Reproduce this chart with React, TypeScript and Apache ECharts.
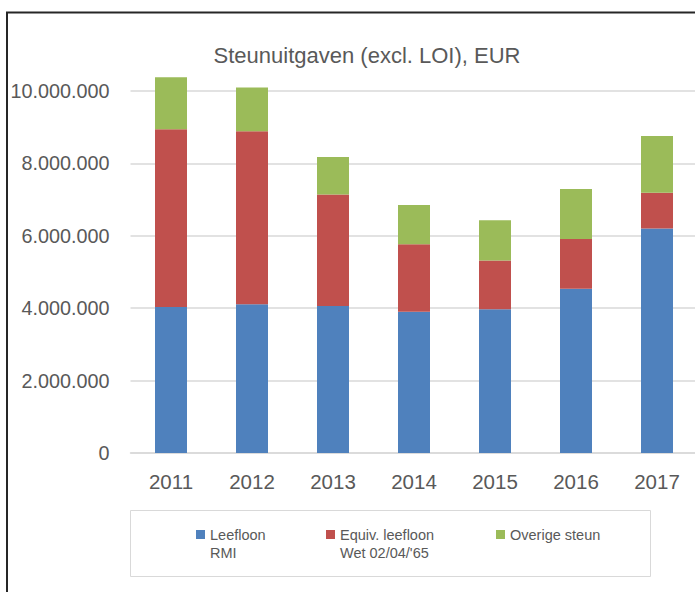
import React, { useEffect, useRef } from "react";
import * as echarts from "echarts";

const years = ["2011", "2012", "2013", "2014", "2015", "2016", "2017"];
const leefloon = [4030000, 4110000, 4060000, 3900000, 3970000, 4540000, 6200000];
const equivLeefloon = [4910000, 4780000, 3080000, 1870000, 1350000, 1370000, 990000];
const overigeSteun = [1440000, 1210000, 1040000, 1080000, 1110000, 1380000, 1570000];
const seriesNames = ["Leefloon\nRMI", "Equiv. leefloon\nWet 02/04/'65", "Overige steun"];
const seriesColors = ["#4f81bd", "#c0504d", "#9bbb59"];
const titleText = "Steunuitgaven (excl. LOI), EUR";

const FONT = "'Liberation Sans', Arial, sans-serif";
const TEXT = "#595959";

function fmt(v: number): string {
  return String(Math.round(v)).replace(/\B(?=(\d{3})+(?!\d))/g, ".");
}

// square icon at the top of a two-line-tall icon box, so it lines up with the first text line
const TWO_LINE_ICON = "path://M0,0L0.01,0M0,4.5L9,4.5L9,13.5L0,13.5ZM0,36L0.01,36";

export default function App() {
  const ref = useRef<HTMLDivElement>(null);
  useEffect(() => {
    if (!ref.current) return;
    const chart = echarts.init(ref.current, null, { renderer: "svg" });
    const values = [leefloon, equivLeefloon, overigeSteun];
    const legendLeft = [196, 326, 496];
    const LH = 18;
    chart.setOption({
      animation: false,
      backgroundColor: "#ffffff",
      title: {
        text: titleText,
        left: 362,
        top: 39,
        textAlign: "center",
        textStyle: { fontFamily: FONT, fontSize: 22, fontWeight: "normal", color: TEXT },
      },
      graphic: [
        {
          type: "rect",
          shape: { x: 7, y: 12.5, width: 720, height: 620 },
          style: { fill: "none", stroke: "#262626", lineWidth: 2 },
          silent: true,
        },
        {
          type: "rect",
          shape: { x: 130.5, y: 510.5, width: 520, height: 66 },
          style: { fill: "none", stroke: "#d9d9d9", lineWidth: 1 },
          silent: true,
        },
      ],
      legend: seriesNames.map((n, i) => {
        const twoLine = n.indexOf("\n") >= 0;
        return {
          data: [{ name: n, icon: twoLine ? TWO_LINE_ICON : "rect" }],
          left: legendLeft[i],
          top: 525.5,
          padding: 0,
          itemWidth: 9,
          itemHeight: twoLine ? 2 * LH : 9,
          itemGap: 0,
          selectedMode: false,
          textStyle: {
            fontFamily: FONT,
            fontSize: 14.5,
            color: TEXT,
            lineHeight: LH,
          },
        };
      }),
      grid: { left: 130.5, top: 91, width: 567, height: 362, outerBoundsMode: "none", containLabel: false },
      xAxis: {
        type: "category",
        data: years,
        axisLine: { lineStyle: { color: "#d9d9d9", width: 1.5 } },
        axisTick: { show: false },
        axisLabel: { fontFamily: FONT, fontSize: 20.5, color: TEXT, margin: 18 },
      },
      yAxis: {
        type: "value",
        min: 0,
        max: 10000000,
        interval: 2000000,
        axisLine: { show: false },
        axisTick: { show: false },
        splitLine: { lineStyle: { color: "#d9d9d9", width: 1.5 } },
        axisLabel: {
          fontFamily: FONT,
          fontSize: 19.8,
          color: TEXT,
          margin: 21,
          formatter: (v: number) => fmt(v),
        },
      },
      series: values.map((arr, i) => ({
        name: seriesNames[i],
        type: "bar",
        stack: "total",
        data: arr,
        barWidth: 32,
        clip: false,
        itemStyle: { color: seriesColors[i] },
      })),
    });
    return () => chart.dispose();
  }, []);
  return (
    <div
      ref={ref}
      style={{ position: "absolute", left: 0, top: 0, width: 695, height: 592 }}
    />
  );
}
